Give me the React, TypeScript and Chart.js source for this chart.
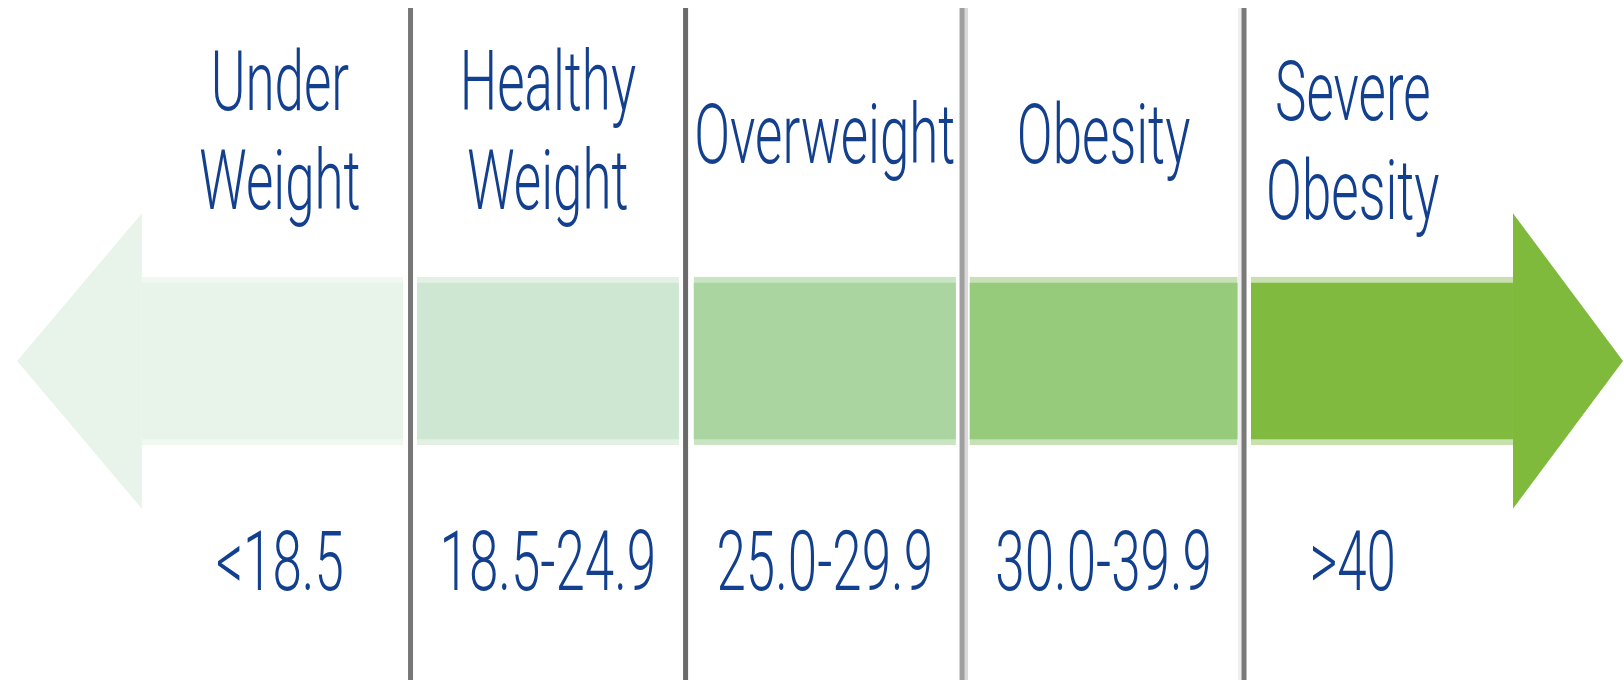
import React, { useEffect, useRef } from "react";
import { Chart, registerables } from "chart.js";

Chart.register(...registerables);

// ---- data ----
const categories = ["Under Weight", "Healthy Weight", "Overweight", "Obesity", "Severe Obesity"];
const labelLines = [["Under", "Weight"], ["Healthy", "Weight"], ["Overweight"], ["Obesity"], ["Severe", "Obesity"]];
const bmiRanges = ["<18.5", "18.5-24.9", "25.0-29.9", "30.0-39.9", ">40"];
// floating bar spans on the category-position scale (segment i spans i..i+1)
const barStart = [0.033, 1.023, 2.019, 3.012, 4.025];
const barEnd = [0.973, 1.966, 2.963, 3.977, 4.968];
// arrow tips (left end of first segment, right end of last segment)
const arrowTips = [-0.416, 5.364];
// divider lines between segments
const dividers = [1.0, 1.99, 2.985, 4.0];

// ---- style ----
const fillColors = ["#E8F4EA", "#CDE7D2", "#AAD5A1", "#96CB7B", "#80BB3F"];
const edgeColors = ["#F1F8F2", "#E3F1E5", "#C9E4C3", "#C6E1B6", "#C8DFAE"];
const dividerColors = ["#777777", "#6A6A6A", "#A0A0A0", "#7A7A7A"];
const TEXT_COLOR = "#123F8E";
const FONT = "300 84px Roboto, 'Liberation Sans', Arial, sans-serif";
const TEXT_SCALE_X = 0.63;
const labelNudge = [0.027, 0, 0, 0, -0.105];
const labelFirstBaseline = [110, 110, 163, 163, 120];
const LINE_GAP = 99;
const RANGE_BASELINE = 590;
const HEAD_RATIO = 1.76;

const X_MIN = -0.4776;
const X_MAX = 5.3676;

const bmiPlugin = {
  id: "bmiDecor",
  afterDatasetsDraw(chart: any) {
    const ctx: CanvasRenderingContext2D = chart.ctx;
    const xs = chart.scales.x;
    const h = chart.height;

    // arrow heads
    const first = chart.getDatasetMeta(0).data[0].getProps(["x", "y", "base", "height"], true);
    const last = chart.getDatasetMeta(categories.length - 1).data[0].getProps(["x", "y", "base", "height"], true);
    const drawHead = (baseX: number, cy: number, barH: number, tipVal: number, color: string) => {
      const half = (barH / 2) * HEAD_RATIO;
      const tipX = xs.getPixelForValue(tipVal);
      ctx.save();
      ctx.fillStyle = color;
      ctx.beginPath();
      ctx.moveTo(baseX, cy - half);
      ctx.lineTo(tipX, cy);
      ctx.lineTo(baseX, cy + half);
      ctx.closePath();
      ctx.fill();
      ctx.restore();
    };
    drawHead(Math.min(first.x, first.base), first.y, first.height, arrowTips[0], fillColors[0]);
    drawHead(Math.max(last.x, last.base), last.y, last.height, arrowTips[1], "#7FBA3C");

    // divider lines
    dividers.forEach((d, i) => {
      const px = xs.getPixelForValue(d);
      ctx.save();
      if (i === 2) {
        ctx.fillStyle = "#D9D9D9";
        ctx.fillRect(px + 2, 8, 4, h - 8);
      }
      if (i === 3) {
        ctx.fillStyle = "#EFEFEF";
        ctx.fillRect(px - 6, 8, 4, h - 8);
      }
      ctx.fillStyle = dividerColors[i];
      ctx.fillRect(px - 2.5, 8, 5, h - 8);
      ctx.restore();
    });

    // texts
    const drawText = (t: string, cx: number, by: number) => {
      ctx.save();
      ctx.translate(cx, by);
      ctx.scale(TEXT_SCALE_X, 1);
      ctx.font = FONT;
      ctx.fillStyle = TEXT_COLOR;
      ctx.textAlign = "center";
      ctx.textBaseline = "alphabetic";
      ctx.fillText(t, 0, 0);
      ctx.restore();
    };
    categories.forEach((_, i) => {
      const cx = xs.getPixelForValue((barStart[i] + barEnd[i]) / 2 + labelNudge[i]);
      labelLines[i].forEach((line, j) => drawText(line, cx, labelFirstBaseline[i] + j * LINE_GAP));
      drawText(bmiRanges[i], cx, RANGE_BASELINE);
    });
  },
};

export default function App() {
  const ref = useRef<HTMLCanvasElement>(null);
  useEffect(() => {
    document.body.style.margin = "0";
    document.body.style.background = "#ffffff";
    const canvas = ref.current!;
    const chart = new Chart(canvas, {
      type: "bar",
      data: {
        labels: ["BMI"],
        datasets: categories.map((c, i) => ({
          label: c,
          data: [[barStart[i], barEnd[i]]] as any,
          backgroundColor: fillColors[i],
          borderColor: edgeColors[i],
          borderWidth: { top: 6, bottom: 6, left: 0, right: 0 },
          borderSkipped: false,
          grouped: false,
          barThickness: 168,
        })),
      },
      options: {
        indexAxis: "y",
        responsive: false,
        animation: false,
        layout: { padding: { top: 42, bottom: 0, left: 0, right: 0 } },
        scales: {
          x: { type: "linear", min: X_MIN, max: X_MAX, display: false },
          y: { display: false },
        },
        plugins: { legend: { display: false }, tooltip: { enabled: false } },
      } as any,
      plugins: [bmiPlugin],
    });
    return () => chart.destroy();
  }, []);
  return <canvas ref={ref} width={1624} height={680} style={{ display: "block" }} />;
}
